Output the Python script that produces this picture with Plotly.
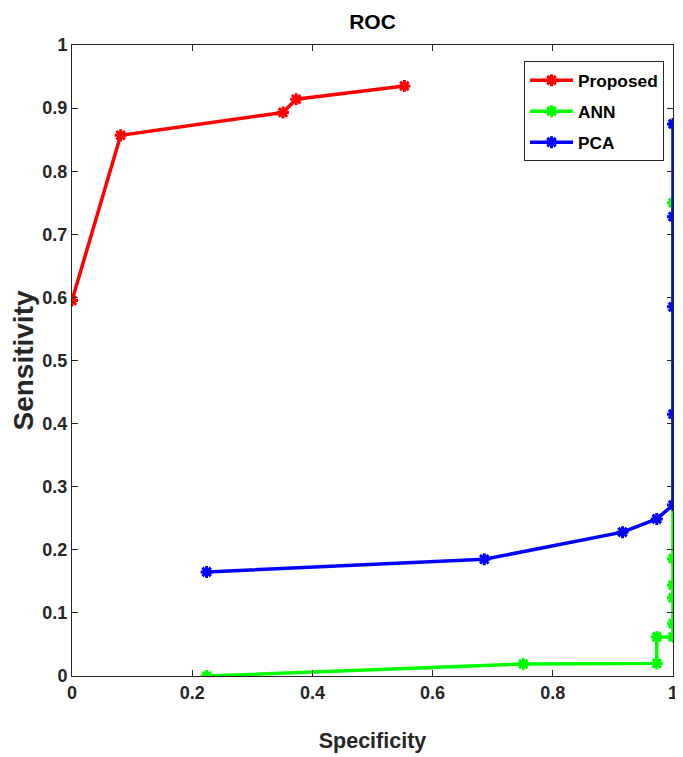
import plotly.graph_objects as go

# Data
proposed_x = [0.0, 0.081, 0.351, 0.373, 0.553]
proposed_y = [0.595, 0.857, 0.893, 0.914, 0.935]

ann_x = [0.224, 0.751, 0.973, 0.973, 1.0, 1.0, 1.0, 1.0, 1.0, 1.0]
ann_y = [0.0, 0.019, 0.020, 0.062, 0.062, 0.083, 0.124, 0.144, 0.186, 0.750]

pca_x = [0.224, 0.686, 0.916, 0.973, 1.0, 1.0, 1.0, 1.0, 1.0]
pca_y = [0.165, 0.185, 0.228, 0.249, 0.271, 0.415, 0.585, 0.728, 0.875]

series_names = ["Proposed", "ANN", "PCA"]
series_colors = ["#ff0000", "#00ff00", "#0000ff"]

tick_vals_x = [0, 0.2, 0.4, 0.6, 0.8, 1]
tick_text_x = ["0", "0.2", "0.4", "0.6", "0.8", "1"]
tick_vals_y = [0, 0.1, 0.2, 0.3, 0.4, 0.5, 0.6, 0.7, 0.8, 0.9, 1]
tick_text_y = ["0", "0.1", "0.2", "0.3", "0.4", "0.5", "0.6", "0.7", "0.8", "0.9", "1"]

FONT = "Liberation Sans, Arial, sans-serif"

fig = go.Figure()
for name, xs, ys, col in zip(series_names,
                             [proposed_x, ann_x, pca_x],
                             [proposed_y, ann_y, pca_y],
                             series_colors):
    fig.add_trace(go.Scatter(
        x=xs, y=ys, name="<b>%s</b>" % name, mode="lines+markers",
        legendgroup=name,
        line=dict(color=col, width=3.5),
        marker=dict(symbol="asterisk-open", size=10, color=col,
                    line=dict(color=col, width=3)),
    ))

axis_common = dict(
    showline=True, linecolor="#262626", linewidth=1, mirror="ticks",
    ticks="inside", ticklen=6, tickcolor="#262626",
    showgrid=False, zeroline=False,
    tickfont=dict(family=FONT, size=18, color="#262626"),
    ticklabeloverflow="allow",
)

# The page body adds an 8px offset; the figure is sized to stay inside the visible page
fig.update_layout(
    width=667, height=749,
    margin=dict(l=64, r=2, t=37, b=81, autoexpand=False),
    paper_bgcolor="white", plot_bgcolor="white",
    font=dict(family=FONT, color="#262626"),
    title=dict(text="<b>ROC</b>", x=0.5465, xanchor="center", y=1 - 14 / 749, yanchor="middle",
               font=dict(family=FONT, size=21, color="#000000")),
    xaxis=dict(range=[0, 1], tickvals=tick_vals_x,
               ticktext=["<b>%s</b>" % t for t in tick_text_x],
               title=dict(text="<b>Specificity</b>",
                          font=dict(family=FONT, size=21.5, color="#262626"), standoff=31),
               **axis_common),
    yaxis=dict(range=[0, 1], tickvals=tick_vals_y,
               ticktext=["<b>%s</b>" % t for t in tick_text_y],
               title=dict(text="<b>Sensitivity</b>",
                          font=dict(family=FONT, size=28, color="#262626"), standoff=3),
               **axis_common),
    legend=dict(x=0.985, xanchor="right", y=0.974, yanchor="top",
                bordercolor="#262626", borderwidth=1, bgcolor="white",
                font=dict(family=FONT, size=17.3, color="#000000"),
                itemwidth=43, tracegroupgap=5.5),
    showlegend=True,
)

fig.write_html("out.html")
